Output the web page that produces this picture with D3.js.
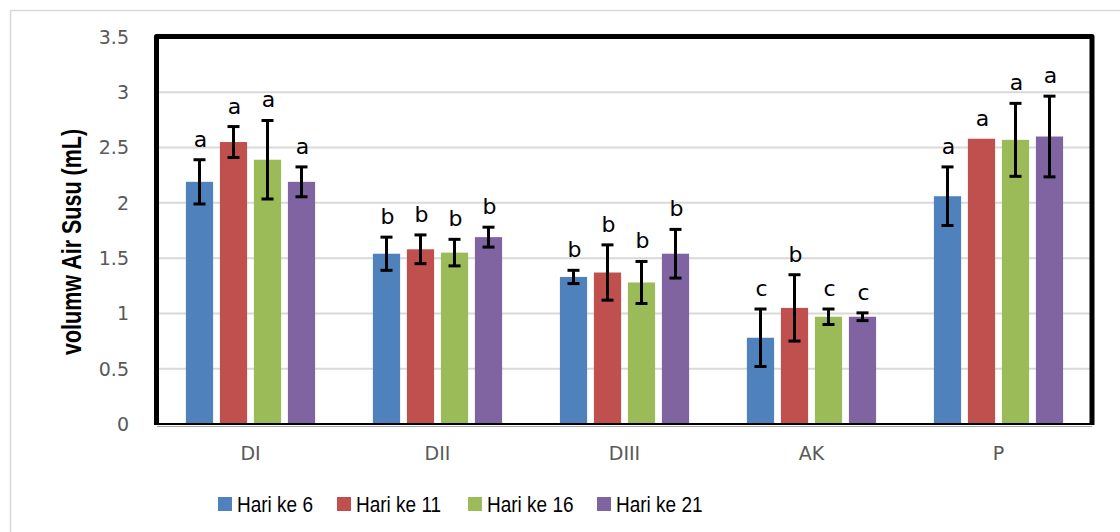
<!DOCTYPE html>
<html>
<head>
<meta charset="utf-8">
<script src="https://cdn.jsdelivr.net/npm/d3@7"></script>
<style>
  html, body { margin: 0; padding: 0; background: #fff; }
  svg { display: block; }
</style>
</head>
<body>
<svg id="chart" width="1120" height="532"></svg>
<script>
// --- Data ---
const categories = ["DI", "DII", "DIII", "AK", "P"];
const seriesNames = ["Hari ke 6", "Hari ke 11", "Hari ke 16", "Hari ke 21"];
const seriesColors = ["#4f81bd", "#c0504d", "#9bbb59", "#8064a2"];

// mean values per series (one entry per category)
const hari6  = [2.19, 1.54, 1.33, 0.78, 2.06];
const hari11 = [2.55, 1.58, 1.37, 1.05, 2.58];
const hari16 = [2.39, 1.55, 1.28, 0.97, 2.57];
const hari21 = [2.19, 1.69, 1.54, 0.97, 2.60];

// error (± SD)
const err6  = [0.20, 0.15, 0.06, 0.26, 0.265];
const err11 = [0.14, 0.13, 0.25, 0.30, 0];
const err16 = [0.355, 0.12, 0.19, 0.07, 0.33];
const err21 = [0.135, 0.09, 0.22, 0.035, 0.365];

// significance letters
const letters6  = ["a", "b", "b", "c", "a"];
const letters11 = ["a", "b", "b", "b", "a"];
const letters16 = ["a", "b", "b", "c", "a"];
const letters21 = ["a", "b", "b", "c", "a"];

const yTicks = [0, 0.5, 1, 1.5, 2, 2.5, 3, 3.5];

const values = [hari6, hari11, hari16, hari21];
const errors = [err6, err11, err16, err21];
const letters = [letters6, letters11, letters16, letters21];

// --- Setup ---
const svg = d3.select("#chart");
const plot = { left: 157, right: 1092, top: 37, bottom: 424 };

const x = d3.scaleBand().domain(categories).range([plot.left, plot.right]);
const xs = d3.scaleBand().domain(seriesNames).range([0, x.bandwidth()])
    .paddingInner(0.2).paddingOuter(0.85);
const y = d3.scaleLinear().domain([0, 3.5]).range([plot.bottom, plot.top]);

// flat records
const records = [];
categories.forEach((c, ci) => {
    seriesNames.forEach((s, si) => {
        records.push({
            cat: c, series: s, si,
            value: values[si][ci],
            err: errors[si][ci],
            letter: letters[si][ci]
        });
    });
});

// outer chart frame
svg.append("rect")
    .attr("x", 10.5).attr("y", 10.5)
    .attr("width", 1130).attr("height", 540)
    .attr("fill", "#fff")
    .attr("stroke", "#d9d9d9")
    .attr("stroke-width", 1.5);

// gridlines
svg.append("g")
    .selectAll("line")
    .data(yTicks.filter(t => t > 0 && t < 3.5))
    .join("line")
    .attr("x1", plot.left).attr("x2", plot.right)
    .attr("y1", d => y(d)).attr("y2", d => y(d))
    .attr("stroke", "#d9d9d9")
    .attr("stroke-width", 2);

// y tick labels
svg.append("g")
    .selectAll("text")
    .data(yTicks)
    .join("text")
    .attr("x", 129)
    .attr("y", d => y(d))
    .attr("dy", "0.36em")
    .attr("text-anchor", "end")
    .attr("font-family", "DejaVu Sans")
    .attr("font-size", 19)
    .attr("fill", "#595959")
    .text(d => d);

// x category labels
svg.append("g")
    .selectAll("text")
    .data(categories)
    .join("text")
    .attr("x", d => x(d) + x.bandwidth() / 2)
    .attr("y", 460)
    .attr("text-anchor", "middle")
    .attr("font-family", "DejaVu Sans")
    .attr("font-size", 19)
    .attr("fill", "#595959")
    .text(d => d);

// bars
svg.append("g")
    .selectAll("rect")
    .data(records)
    .join("rect")
    .attr("x", d => x(d.cat) + xs(d.series))
    .attr("y", d => y(d.value))
    .attr("width", xs.bandwidth())
    .attr("height", d => y(0) - y(d.value))
    .attr("fill", d => seriesColors[d.si]);

// error bars
const eb = svg.append("g").attr("stroke", "#000").attr("stroke-width", 3);
records.filter(d => d.err > 0).forEach(d => {
    const cx = x(d.cat) + xs(d.series) + xs.bandwidth() / 2;
    const y1 = y(d.value + d.err), y2 = y(d.value - d.err);
    eb.append("line").attr("x1", cx).attr("x2", cx).attr("y1", y1).attr("y2", y2);
    eb.append("line").attr("x1", cx - 6).attr("x2", cx + 6).attr("y1", y1).attr("y2", y1);
    eb.append("line").attr("x1", cx - 6).attr("x2", cx + 6).attr("y1", y2).attr("y2", y2);
});

// significance letters
svg.append("g")
    .selectAll("text")
    .data(records)
    .join("text")
    .attr("x", d => x(d.cat) + xs(d.series) + xs.bandwidth() / 2 + 1)
    .attr("y", d => y(d.value + d.err) - 13)
    .attr("text-anchor", "middle")
    .attr("font-family", "DejaVu Sans")
    .attr("font-size", 22)
    .attr("fill", "#000")
    .text(d => d.letter);

// plot frame: thick left, top, right
svg.append("path")
    .attr("d", `M${plot.left - 0.5},${plot.bottom + 1} L${plot.left - 0.5},${plot.top - 0.5} L${plot.right},${plot.top - 0.5} L${plot.right},${plot.bottom + 1}`)
    .attr("fill", "none")
    .attr("stroke", "#000")
    .attr("stroke-width", 5)
    .attr("stroke-linejoin", "round");

// bottom axis line
svg.append("line")
    .attr("x1", plot.left).attr("x2", plot.right)
    .attr("y1", plot.bottom).attr("y2", plot.bottom)
    .attr("stroke", "#000").attr("stroke-width", 2);
svg.append("line")
    .attr("x1", plot.left).attr("x2", plot.right)
    .attr("y1", plot.bottom + 2.5).attr("y2", plot.bottom + 2.5)
    .attr("stroke", "#a6a6a6").attr("stroke-width", 1);

// y axis title (condensed, tall glyphs like the original)
svg.append("text")
    .attr("transform", "translate(81,242) rotate(-90) scale(1,1.25)")
    .attr("text-anchor", "middle")
    .attr("font-family", "Liberation Sans")
    .attr("font-weight", "bold")
    .attr("font-size", 21.5)
    .attr("fill", "#000")
    .text("volumw Air Susu (mL)");

// legend
const legendX = [218, 337, 468, 597];
const legend = svg.append("g")
    .selectAll("g")
    .data(seriesNames)
    .join("g")
    .attr("transform", (d, i) => `translate(${legendX[i]},497)`);
legend.append("rect")
    .attr("width", 14).attr("height", 14)
    .attr("fill", (d, i) => seriesColors[i]);
legend.append("text")
    .attr("transform", "translate(19,14.5) scale(1,1.12)")
    .attr("font-family", "Liberation Sans")
    .attr("font-size", 19)
    .attr("fill", "#000")
    .text(d => d);
</script>
</body>
</html>
